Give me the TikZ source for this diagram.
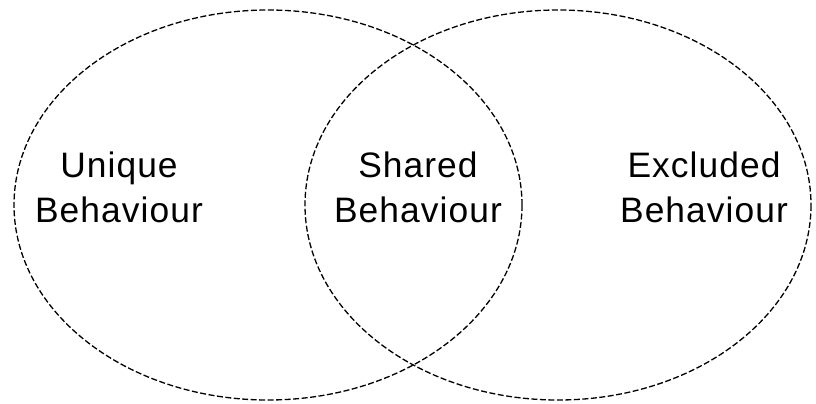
\documentclass[tikz,border=0pt]{standalone}
\usepackage{fontspec}
\setmainfont{Liberation Sans}[LetterSpace=3]
\usepackage{tikz}

\begin{document}
\begin{tikzpicture}[x=1bp, y=-1bp,
    venn/.style={line width=1.3bp, dash pattern=on 6bp off 2.5bp},
    label/.style={align=center, inner sep=0pt, font=\fontsize{35.5}{45}\selectfont}]
  \useasboundingbox (0,0) rectangle (816,403);
  \draw[venn] (268,205) ellipse [x radius=254, y radius=195];
  \draw[venn] (558,205) ellipse [x radius=253, y radius=195];
  \node[label] (unique) at (119,187) {Unique\\Behaviour};
  \node[label] (shared) at (418,187) {Shared\\Behaviour};
  \node[label] (excluded) at (704,187) {Excluded\\Behaviour};
\end{tikzpicture}
\end{document}
